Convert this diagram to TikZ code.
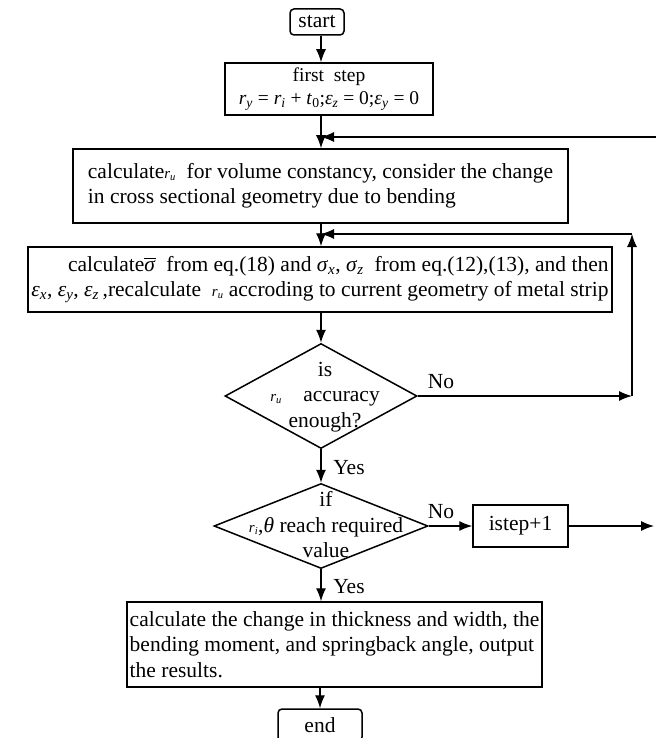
\documentclass[tikz,border=0pt]{standalone}
\usepackage{fontspec}
\setmainfont{Liberation Serif}
\usetikzlibrary{arrows.meta,shapes.geometric,calc}
\newcommand{\mvar}[2]{\textit{#1}\textsubscript{\textit{#2}}}
\newcommand{\smvar}[2]{{\fontsize{15}{15}\selectfont\textit{#1}\textsubscript{\textit{#2}}}}
\begin{document}
\begin{tikzpicture}[x=1pt,y=-1pt,
  font=\fontsize{21.5}{25.5}\selectfont,
  box/.style={draw, line width=1.5pt, inner sep=0pt},
  rbox/.style={box, rounded corners=4pt},
  dia/.style={draw, diamond, line width=1.5pt, inner sep=0pt},
  arr/.style={line width=1.3pt, -{Latex[length=13pt,width=10pt]}},
  lbl/.style={inner sep=0pt}]
\useasboundingbox (0,0) rectangle (656,738);
\clip (0,0) rectangle (656,738);

\node[rbox, minimum width=54pt, minimum height=26pt] (start) at (317,22) {start};
\node[box, minimum width=208pt, minimum height=52pt, align=center,
      font=\fontsize{19.5}{23}\selectfont] (first) at (329,89)
  {first\ \ step\\ \mvar{r}{y}\ =\ \mvar{r}{i}\ +\ \textit{t}\textsubscript{0};\mvar{ε}{z}\ =\ 0;\mvar{ε}{y}\ =\ 0};
\node[box, minimum width=495pt, minimum height=74pt, align=left] (calc) at (320.5,186)
  {calculate\smvar{r}{u}\ \ for volume constancy, consider the change\\in cross sectional geometry due to bending};
\node[box, minimum width=584pt, minimum height=65pt, align=right] (sig) at (320,279.5)
  {calculate$\overline{\mbox{\textit{σ}}}$\ \ from eq.(18) and \mvar{σ}{x}, \mvar{σ}{z}\ \ from eq.(12),(13), and then\\
   \mvar{ε}{x}, \mvar{ε}{y}, \mvar{ε}{z}\,,recalculate\ \ \smvar{r}{u} accroding to current geometry of metal strip};
\node[dia, minimum width=192pt, minimum height=105pt] (d1) at (321,396) {};
\node[lbl, align=center] (d1t) at (325,397) {is\\\smvar{r}{u}\quad accuracy\\enough?};
\node[dia, minimum width=214pt, minimum height=85pt] (d2) at (321,526) {};
\node[lbl, align=center] (d2t) at (326,525) {if\\\smvar{r}{i},\textit{θ} reach required\\value};
\node[box, minimum width=95pt, minimum height=42pt] (istep) at (520.5,526) {istep+1};
\node[box, minimum width=415pt, minimum height=85pt, align=left] (final) at (334.5,644.5)
  {calculate the change in thickness and width, the\\bending moment, and springback angle, output\\the results.};
\node[rbox, minimum width=84pt, minimum height=32pt] (end) at (320,725) {end};

\node[lbl] (no1) at (441,382) {No};
\node[lbl] (no2) at (441,512) {No};
\node[lbl] (yes1) at (349,468) {Yes};
\node[lbl] (yes2) at (349,587) {Yes};

\coordinate (fb1) at (656,137);
\coordinate (fb2) at (632,234);
\coordinate (out) at (654,526);

\draw[arr] (start.south -| d1.north) -- (first.north -| d1.north);
\draw[arr] (first.south -| d1.north) -- (calc.north -| d1.north);
\draw[arr] (fb1) -- (fb1 -| d1.north);
\draw[arr] (calc.south -| d1.north) -- (sig.north -| d1.north);
\draw[arr] (fb2) -- (fb2 -| d1.north);
\draw[arr] (sig.south -| d1.north) -- (d1.north);
\draw[arr] (d1.east) -- (d1.east -| fb2);
\draw[arr] (d1.east -| fb2) -- (fb2);
\draw[arr] (d1.south) -- (d2.north);
\draw[arr] (d2.east) -- (istep.west);
\draw[arr] (istep.east) -- (out);
\draw[arr] (d2.south) -- (d2.south |- final.north);
\draw[arr] (final.south -| end.north) -- (end.north);
\end{tikzpicture}
\end{document}
